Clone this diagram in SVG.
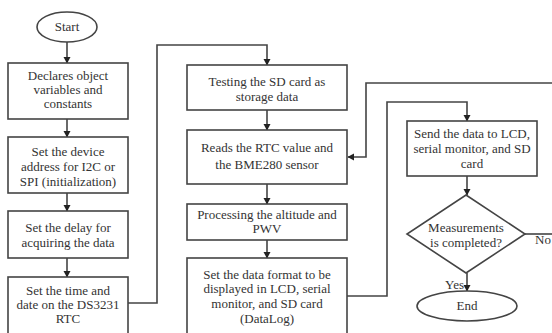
<svg xmlns="http://www.w3.org/2000/svg" width="552" height="333" viewBox="0 0 552 333">
<style>
.n{fill:#fff;stroke:#444;stroke-width:1.6}
.t{font-family:"Liberation Serif","Times New Roman","DejaVu Serif",serif;font-size:13px;fill:#333;text-anchor:middle}
.c{fill:none;stroke:#444;stroke-width:1.6}
</style>
<defs>
<marker id="a" markerWidth="8" markerHeight="8" refX="6" refY="4" orient="auto" markerUnits="userSpaceOnUse">
<path d="M0,0.5 L6.5,4 L0,7.5 Z" fill="#222"/>
</marker>
</defs>
<rect width="552" height="333" fill="#fff"/>
<g id="connectors">
<path class="c" d="M67,42 V63" marker-end="url(#a)"/>
<path class="c" d="M67,119 V137" marker-end="url(#a)"/>
<path class="c" d="M67,193 V211" marker-end="url(#a)"/>
<path class="c" d="M67,258 V277" marker-end="url(#a)"/>
<path class="c" d="M128,303 H157 V45 H267 V65" marker-end="url(#a)"/>
<path class="c" d="M267,110 V130" marker-end="url(#a)"/>
<path class="c" d="M267,184 V204" marker-end="url(#a)"/>
<path class="c" d="M267,240 V258" marker-end="url(#a)"/>
<path class="c" d="M347,296 H387 V102 H467 V121" marker-end="url(#a)"/>
<path class="c" d="M467,176 V195" marker-end="url(#a)"/>
<path class="c" d="M525,234 H552"/>
<path class="c" d="M552,83 H366 V157 H348" marker-end="url(#a)"/>
<path class="c" d="M467,273 V291" marker-end="url(#a)"/>
</g>
<g id="start"><ellipse class="n" cx="67" cy="27" rx="30" ry="15"/><text class="t" x="67" y="31">Start</text></g>
<g id="box1"><rect class="n" x="8" y="63" width="120" height="56"/><text class="t" x="68" y="80">Declares object</text><text class="t" x="68" y="94">variables and</text><text class="t" x="68" y="108">constants</text></g>
<g id="box2"><rect class="n" x="8" y="137" width="120" height="56"/><text class="t" x="68" y="156">Set the device</text><text class="t" x="68" y="171">address for I2C or</text><text class="t" x="68" y="186">SPI (initialization)</text></g>
<g id="box3"><rect class="n" x="8" y="211" width="120" height="47"/><text class="t" x="68" y="232">Set the delay for</text><text class="t" x="68" y="247">acquiring the data</text></g>
<g id="box4"><rect class="n" x="8" y="277" width="120" height="58"/><text class="t" x="68" y="295">Set the time and</text><text class="t" x="68" y="309">date on the DS3231</text><text class="t" x="68" y="323">RTC</text></g>
<g id="box5"><rect class="n" x="187" y="65" width="160" height="45"/><text class="t" x="267" y="86">Testing the SD card as</text><text class="t" x="267" y="101">storage data</text></g>
<g id="box6"><rect class="n" x="187" y="130" width="160" height="54"/><text class="t" x="267" y="152">Reads the RTC value and</text><text class="t" x="267" y="169">the BME280 sensor</text></g>
<g id="box7"><rect class="n" x="187" y="204" width="160" height="36"/><text class="t" x="267" y="219">Processing the altitude and</text><text class="t" x="267" y="233">PWV</text></g>
<g id="box8"><rect class="n" x="187" y="258" width="160" height="77"/><text class="t" x="267" y="279">Set the data format to be</text><text class="t" x="267" y="293">displayed in LCD, serial</text><text class="t" x="267" y="308">monitor, and SD card</text><text class="t" x="267" y="323">(DataLog)</text></g>
<g id="box9"><rect class="n" x="407" y="121" width="130" height="55"/><text class="t" x="472" y="138">Send the data to LCD,</text><text class="t" x="472" y="153">serial monitor, and SD</text><text class="t" x="472" y="168">card</text></g>
<g id="decision"><polygon class="n" points="466,195 525,234 466,273 407,234"/><text class="t" x="466" y="232">Measurements</text><text class="t" x="466" y="247">is completed?</text></g>
<g id="end"><ellipse class="n" cx="467" cy="306" rx="50" ry="15"/><text class="t" x="467" y="310">End</text></g>
<text class="t" x="543" y="244">No</text>
<text class="t" x="464" y="289" style="text-anchor:end">Yes</text>
</svg>
